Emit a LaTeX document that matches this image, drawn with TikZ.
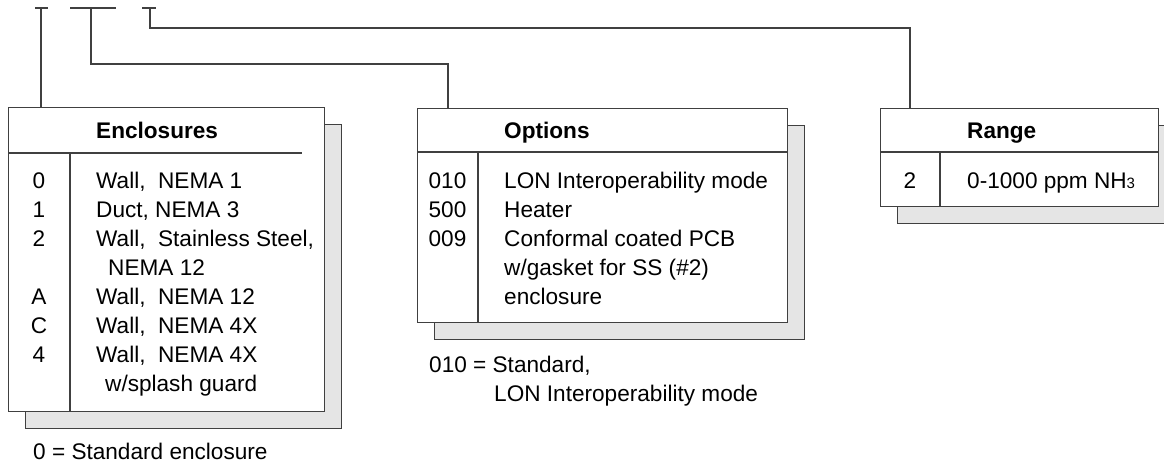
\documentclass[tikz,border=0pt]{standalone}
\usepackage{fontspec}
\setmainfont{Liberation Sans}
\usetikzlibrary{calc,shadows}

\begin{document}
\begin{tikzpicture}[
  x=1pt, y=-1pt,
  font=\fontsize{22.6}{29}\selectfont,
  panel/.style={draw=black!75, line width=1.2pt, fill=white, anchor=north west, inner sep=0pt,
    copy shadow={shadow xshift=17pt, shadow yshift=-17pt, draw=black!75, fill=black!10}},
  rule/.style={draw=black!75, line width=1.2pt},
  wire/.style={draw=black!75, line width=1.2pt},
  head/.style={anchor=west, font=\fontsize{22.6}{29}\selectfont\bfseries, text height=17pt, text depth=3pt, inner sep=0pt},
  code/.style={text height=17pt, text depth=3pt, inner sep=0pt},
  desc/.style={anchor=west, text height=17pt, text depth=3pt, inner sep=0pt}
]
  \path[use as bounding box, clip] (0,0) rectangle (1164,463);

  % Panels
  \node[panel, minimum width=316pt, minimum height=304pt] (encl) at (8,107) {};
  \node[panel, minimum width=370pt, minimum height=214pt] (opts) at (417,108) {};
  \node[panel, minimum width=278pt, minimum height=98pt] (range) at (880,108) {};

  % Header rules and code columns
  \draw[rule] ($(encl.north west)+(0,46)$) -- +(294,0);
  \draw[rule] ($(encl.north west)+(62,46)$) -- ($(encl.south west)+(62,0)$);
  \draw[rule] ($(opts.north west)+(0,44)$) -- ($(opts.north east)+(0,44)$);
  \draw[rule] ($(opts.north west)+(61,44)$) -- ($(opts.south west)+(61,0)$);
  \draw[rule] ($(range.north west)+(0,44)$) -- ($(range.north east)+(0,44)$);
  \draw[rule] ($(range.north west)+(60,44)$) -- ($(range.south west)+(60,0)$);

  % Enclosures
  \node[head] (encl-head) at (96,131) {Enclosures};
  \node[code] (e0) at (39,181) {0};
  \node[code] (e1) at (39,210) {1};
  \node[code] (e2) at (39,239) {2};
  \node[code] (eA) at (39,297) {A};
  \node[code] (eC) at (39,326) {C};
  \node[code] (e4) at (39,355) {4};
  \node[desc] (e0-txt) at (96,181) {Wall,\ \ NEMA 1};
  \node[desc] (e1-txt) at (96,210) {Duct, NEMA 3};
  \node[desc] (e2-txt) at (96,239) {Wall,\ \ Stainless Steel,};
  \node[desc] (e2-cont) at (108,268) {NEMA 12};
  \node[desc] (eA-txt) at (96,297) {Wall,\ \ NEMA 12};
  \node[desc] (eC-txt) at (96,326) {Wall,\ \ NEMA 4X};
  \node[desc] (e4-txt) at (96,355) {Wall,\ \ NEMA 4X};
  \node[desc] (e4-cont) at (105,384) {w/splash guard};
  \node[desc] (encl-note) at (33,452) {0 = Standard enclosure};

  % Options
  \node[head] (opts-head) at (504,131) {Options};
  \node[code] (o010) at (447.5,181) {010};
  \node[code] (o500) at (447.5,210) {500};
  \node[code] (o009) at (447.5,239) {009};
  \node[desc] (o010-txt) at (504,181) {LON Interoperability mode};
  \node[desc] (o500-txt) at (504,210) {Heater};
  \node[desc] (o009-txt) at (504,239) {Conformal coated PCB};
  \node[desc] (o009-cont1) at (504,268) {w/gasket for SS (\#2)};
  \node[desc] (o009-cont2) at (504,297) {enclosure};
  \node[desc] (opts-note1) at (429,365) {010 = Standard,};
  \node[desc] (opts-note2) at (494,394) {LON Interoperability mode};

  % Range
  \node[head] (range-head) at (967,131) {Range};
  \node[code] (r2) at (910,181) {2};
  \node[desc] (r2-txt) at (967,181) {0-1000 ppm NH{\fontsize{15}{15}\selectfont 3}};

  % Model number ticks
  \coordinate (t1) at (41,8);
  \coordinate (t2) at (91,8);
  \coordinate (t3) at (150,8);
  \draw[wire] ($(t1)+(-6,0)$) -- ($(t1)+(7,0)$);
  \draw[wire] ($(t2)+(-21,0)$) -- ($(t2)+(25,0)$);
  \draw[wire] ($(t3)+(-8,0)$) -- ($(t3)+(6,0)$);

  % Connectors
  \coordinate (opts-in) at ($(opts.north west)+(31,0)$);
  \coordinate (range-in) at ($(range.north west)+(30,0)$);
  \draw[wire] (t1) -- (t1 |- encl.north);
  \draw[wire] (t2) |- ($(opts-in)+(0,-44)$) -- (opts-in);
  \draw[wire] (t3) |- ($(range-in)+(0,-80)$) -- (range-in);
\end{tikzpicture}
\end{document}
